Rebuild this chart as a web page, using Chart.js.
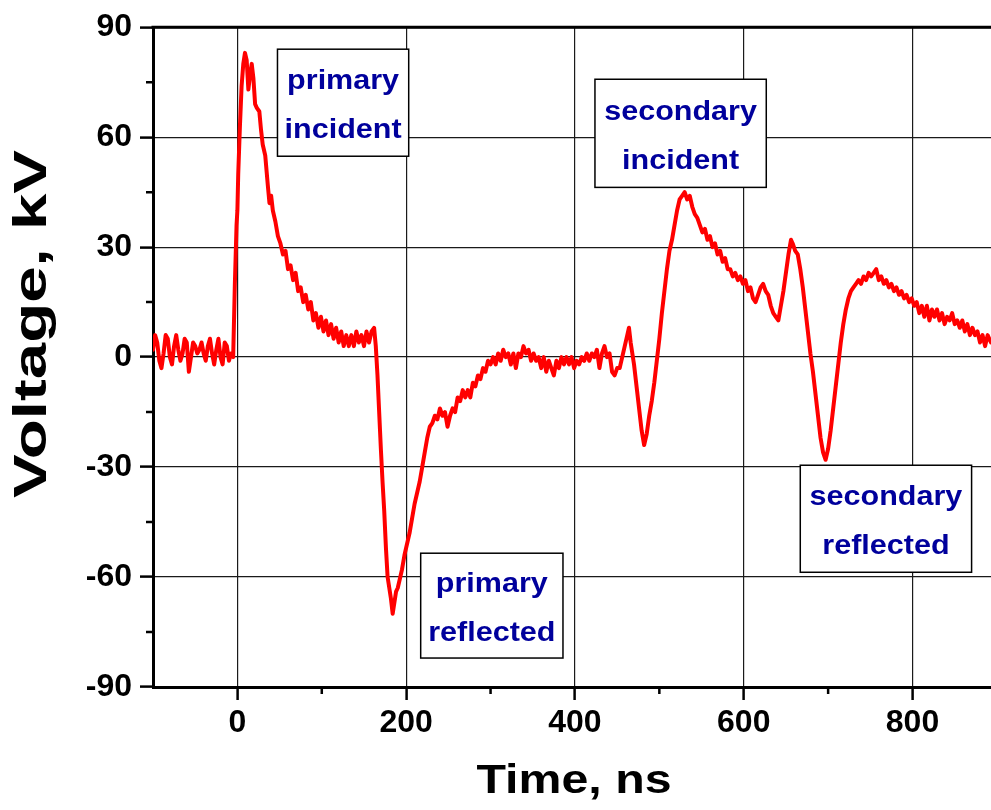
<!DOCTYPE html>
<html>
<head>
<meta charset="utf-8">
<script src="https://cdn.jsdelivr.net/npm/chart.js@4/dist/chart.umd.min.js"></script>
<style>
html,body{margin:0;padding:0;background:#fff;}
#c{display:block;}
</style>
</head>
<body>
<canvas id="c" width="991" height="810"></canvas>
<script>
// ---- data ----
const timeNs = [-100,-97.5,-95,-92.5,-90,-87.5,-85,-82.5,-80,-77.5,-75,-72.5,-70,-67.5,-65,-62.5,-60,-57.5,-55,-52.5,-50,-47.5,-45,-42.5,-40,-37.5,-35,-32.5,-30,-27.5,-25,-22.5,-20,-17.5,-15,-12.5,-10,-7.5,-5,
-3,-1,0,1,3,5,7,9,11,13,15,17,19,21,23,26,28,30,33,36,38,40,42,45,48,51,54,57,60,63,66,69,72,75,78,81,84,87,90,93,96,99,
102,105,108,111,114,117,120,123,126,129,132,135,138,141,144,147,150,153,156,159,162,164,166,168,170,172,174,176,178,180,182,184,186,188,190,192,195,198,
201,204,207,210,213,216,219,222,225,228,231,234,237,240,243,246,249,252,255,258,261,264,267,270,273,276,279,282,285,288,291,294,297,300,
303,306,309,312,315,318,321,324,327,330,333,336,339,342,345,348,351,354,357,360,363,366,369,372,375,378,381,384,387,390,393,396,399,
402,405,408,411,414,417,420,423,426,429,432,435,438,441,444,447,450,453,456,459,462,464,466,468,470,473,476,479,482,485,488,491,494,497,500,
503,506,509,512,515,518,521,524,527,530,533,536,539,542,545,548,551,554,557,560,563,566,569,572,575,578,581,584,587,590,593,596,599,
602,605,608,611,614,617,620,623,626,629,632,635,638,641,644,647,650,653,656,658,661,664,667,670,673,676,679,682,685,688,691,694,697,700,
703,706,709,712,715,718,721,724,727,730,733,736,739,742,745,748,751,754,757,760,763,766,769,772,775,778,781,784,787,790,793,796,799,
802,805,808,811,814,817,820,823,826,829,832,835,838,841,844,847,850,853,856,859,862,865,868,871,874,877,880,883,886,889,893];
const voltageKV = [2,6,4,-1,-3,1,6,5,0,-2,3,6,2,-1,1,5,4,-4,0,4,3,1,2,4,1,-1,3,5,1,-2,2,5,0,-2,4,3,-1,1,0,
20,36,40,50,63,74,80,83,81,73,77,80,76,69,68,67,62,58,55,47,42,44,40,37,33,31,28,29,24,25,21,23,18,19,15,17,13,15,10,12,8,11,
7,10,6,9,5,8,4,7,3,6,3,6,3,7,4,6,3,7,4,7,8,3,-5,-15,-25,-34,-42,-52,-60,-63,-66,-70,-67,-64,-63,-61,-58,-54,
-51,-48,-44,-40,-37,-34,-30,-26,-22,-19,-18,-16,-17,-14,-16,-15,-19,-16,-14,-15,-11,-12,-9,-11,-9,-11,-7,-8,-5,-6,-3,-4,-1,-2,
0,-2,1,-1,2,0,1,-2,1,-3,1,0,3,1,2,-1,1,-1,0,-3,0,-4,-1,-3,-5,-1,-3,0,-2,0,-2,0,-3,
-1,-2,0,-1,1,-1,1,0,2,-3,1,3,0,1,-4,-5,-3,-3,0,3,6,8,4,1,-2,-8,-14,-20,-24,-21,-16,-12,-7,-1,5,
12,18,24,29,32,36,40,43,44,45,43,44,41,39,38,36,34,35,32,33,30,31,28,29,26,27,24,24,22,23,21,22,20,
21,18,19,16,15,17,19,20,18,17,14,12,11,10,14,18,23,28,32,31,29,28,24,19,13,7,1,-4,-10,-16,-22,-26,-28,-25,
-20,-14,-8,-2,4,9,13,16,18,19,20,21,20,22,21,23,22,23,24,21,22,20,21,19,20,18,19,17,18,16,17,15,16,
14,15,12,14,11,14,10,13,11,13,10,12,9,11,10,12,9,10,8,10,7,9,6,8,6,7,4,6,3,6,4];

const xTickValues = [0,200,400,600,800];
const yTickValues = [-90,-60,-30,0,30,60,90];
const xMinorValues = [100,300,500,700];
const yMinorValues = [-75,-45,-15,15,45,75];

const xAxisTitle = 'Time, ns';
const yAxisTitle = 'Voltage, kV';

const annotationLabels = [
  ['primary','incident'],
  ['secondary','incident'],
  ['primary','reflected'],
  ['secondary','reflected']
];
// box corners in data units: [tLeft, tRight, vTop, vBottom]
const annotationBoxes = [
  [47.5, 203, 84, 54.8],
  [423.7, 626.7, 75.8, 46.3],
  [217.2, 385.8, -53.5, -82.1],
  [667, 870, -29.5, -58.7]
];

const FONT = '"Liberation Sans", Arial, sans-serif';

function stretchedText(ctx, text, x, y, sx) {
  ctx.save();
  ctx.translate(x, y);
  ctx.scale(sx, 1);
  ctx.fillText(text, 0, 0);
  ctx.restore();
}

const decorPlugin = {
  id: 'decor',
  afterDatasetsDraw(chart) {
    const ctx = chart.ctx;
    const xs = chart.scales.x, ys = chart.scales.y;
    ctx.save();
    annotationBoxes.forEach((b, i) => {
      const l = xs.getPixelForValue(b[0]), r = xs.getPixelForValue(b[1]);
      const t = ys.getPixelForValue(b[2]), btm = ys.getPixelForValue(b[3]);
      ctx.fillStyle = '#fff';
      ctx.fillRect(l, t, r - l, btm - t);
      ctx.strokeStyle = '#000';
      ctx.lineWidth = 1.5;
      ctx.strokeRect(l, t, r - l, btm - t);
      ctx.fillStyle = '#00009c';
      ctx.font = 'bold 28px ' + FONT;
      ctx.textAlign = 'center';
      ctx.textBaseline = 'middle';
      const cx = (l + r) / 2, cy = (t + btm) / 2;
      stretchedText(ctx, annotationLabels[i][0], cx, cy - 21, 1.09);
      stretchedText(ctx, annotationLabels[i][1], cx, cy + 28, 1.09);
    });
    ctx.restore();
  },
  afterDraw(chart) {
    const ctx = chart.ctx;
    const ca = chart.chartArea;
    const xs = chart.scales.x, ys = chart.scales.y;
    ctx.save();
    ctx.strokeStyle = '#000';
    ctx.lineWidth = 3;
    ctx.beginPath();
    ctx.moveTo(ca.left - 1.5, ca.top);
    ctx.lineTo(ca.right, ca.top);
    ctx.stroke();
    ctx.lineWidth = 2.5;
    ctx.beginPath();
    xMinorValues.forEach(v => {
      const p = xs.getPixelForValue(v);
      ctx.moveTo(p, ca.bottom);
      ctx.lineTo(p, ca.bottom + 7);
    });
    yMinorValues.forEach(v => {
      const p = ys.getPixelForValue(v);
      ctx.moveTo(ca.left, p);
      ctx.lineTo(ca.left - 7, p);
    });
    ctx.stroke();
    // axis titles (stretched to the reference's widths)
    ctx.fillStyle = '#000';
    ctx.textAlign = 'center';
    ctx.textBaseline = 'alphabetic';
    ctx.font = 'bold 41px ' + FONT;
    const wx = ctx.measureText(xAxisTitle).width;
    stretchedText(ctx, xAxisTitle, 574, 793, 195 / wx);
    ctx.font = 'bold 46px ' + FONT;
    const wy = ctx.measureText(yAxisTitle).width;
    ctx.translate(46, 324);
    ctx.rotate(-Math.PI / 2);
    stretchedText(ctx, yAxisTitle, 0, 0, 348 / wy);
    ctx.restore();
  }
};

new Chart(document.getElementById('c'), {
  type: 'line',
  data: {
    datasets: [{
      data: timeNs.map((t, i) => ({x: t, y: voltageKV[i]})),
      borderColor: '#ff0000',
      borderWidth: 4,
      borderJoinStyle: 'round',
      borderCapStyle: 'round',
      pointRadius: 0,
      tension: 0,
      fill: false
    }]
  },
  options: {
    responsive: false,
    animation: false,
    layout: {padding: {top: 25, left: 0, right: 0, bottom: 0}},
    plugins: {legend: {display: false}, tooltip: {enabled: false}, title: {display: false}},
    scales: {
      x: {
        type: 'linear',
        min: -100,
        max: 893,
        afterBuildTicks: s => { s.ticks = xTickValues.map(v => ({value: v})); },
        afterFit: s => { s.height = 123; },
        grid: {color: '#1a1a1a', lineWidth: 1.2, tickLength: 13, tickWidth: 2.5, tickColor: '#000'},
        border: {color: '#000', width: 3},
        ticks: {font: {family: FONT, size: 32, weight: 'bold'}, color: '#000', padding: 4, maxRotation: 0, autoSkip: false}
      },
      y: {
        type: 'linear',
        min: -90,
        max: 90,
        afterBuildTicks: s => { s.ticks = yTickValues.map(v => ({value: v})); },
        afterFit: s => { s.width = 153; },
        grid: {color: '#1a1a1a', lineWidth: 1.2, tickLength: 13, tickWidth: 2.5, tickColor: '#000'},
        border: {color: '#000', width: 3},
        ticks: {font: {family: FONT, size: 32, weight: 'bold'}, color: '#000', padding: 8, autoSkip: false}
      }
    }
  },
  plugins: [decorPlugin]
});
</script>
</body>
</html>
